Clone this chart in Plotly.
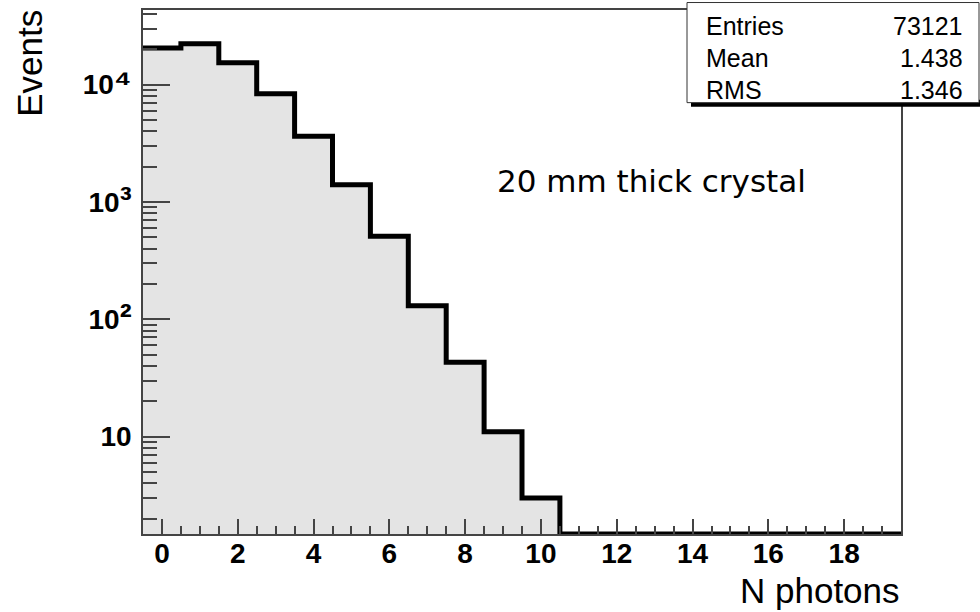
import math
import plotly.graph_objects as go

# Histogram of detected photons per event (bins centred on integers 0..19)
n_photons = list(range(20))
events = [20500, 22200, 15300, 8340, 3630, 1400, 509, 130, 43, 11, 3,
          0, 0, 0, 0, 0, 0, 0, 0, 0]

stat_names = ["Entries", "Mean", "RMS"]
stat_values = ["73121", "1.438", "1.346"]

y_major = [10, 100, 1000, 10000]
y_major_exp = [None, "²", "³", "⁴"]

# Figure geometry (pixels)
W, H = 980, 612
L, R, T, B = 143, 901, 8, 534
Y_LOG_RANGE = [0.17, 4.635]
X_RANGE = [-0.5, 19.5]


def px(x):
    return (x - L) / (R - L)


def py(y):
    return (B - y) / (B - T)


def decade_label(exp):
    if exp is None:
        return "10"
    return "10<span style='font-size:36px'>" + exp + "</span>"


y_major_text = [decade_label(e) for e in y_major_exp]

# minor ticks 2..9 within each decade
y_minor = [m * 10 ** d for d in range(0, 5) for m in range(2, 10)
           if Y_LOG_RANGE[0] <= math.log10(m * 10 ** d) <= Y_LOG_RANGE[1]]

floor_val = 10 ** Y_LOG_RANGE[0]
edges = [c - 0.5 for c in n_photons] + [n_photons[-1] + 0.5]
line_y = [max(v, floor_val) for v in events]
line_y = line_y + [line_y[-1]]

fig = go.Figure()
fig.add_trace(go.Bar(
    x=n_photons, y=[v if v > 0 else None for v in events], width=1.0,
    marker=dict(color="#e4e4e4", line=dict(width=0)),
    hoverinfo="skip", showlegend=False,
))
fig.add_trace(go.Scatter(
    x=edges, y=line_y, mode="lines", line=dict(color="black", width=5, shape="hv"),
    cliponaxis=False, hoverinfo="skip", showlegend=False,
))

axis_col = "#444444"
tick_font = dict(family="Liberation Sans, Arial, sans-serif", size=28, color="black", weight="bold")

fig.update_xaxes(
    range=X_RANGE, showline=True, linecolor=axis_col, linewidth=1.5, mirror=True,
    showgrid=False, zeroline=False,
    tickmode="linear", tick0=0, dtick=2, ticks="inside", ticklen=15, tickwidth=1.5,
    tickcolor=axis_col, tickfont=tick_font, ticklabelstandoff=-6,
    minor=dict(dtick=0.5, tick0=0, ticks="inside", ticklen=8, tickwidth=1.5, tickcolor=axis_col),
)
fig.update_yaxes(
    type="log", range=Y_LOG_RANGE, showline=True, linecolor=axis_col, linewidth=1.5, mirror=True,
    showgrid=False, zeroline=False,
    tickmode="array", tickvals=y_major, ticktext=y_major_text,
    ticks="inside", ticklen=27, tickwidth=1.5, tickcolor=axis_col, tickfont=tick_font,
    ticklabelstandoff=4,
    minor=dict(tickmode="array", tickvals=y_minor, ticks="inside", ticklen=14, tickwidth=1.5,
               tickcolor=axis_col),
)

# Statistics box with drop shadow
fig.add_shape(type="rect", xref="paper", yref="paper",
              x0=px(691), x1=px(980), y0=py(105), y1=py(98),
              fillcolor="black", line=dict(width=0), layer="above")
fig.add_shape(type="rect", xref="paper", yref="paper",
              x0=px(687), x1=px(979), y0=py(101), y1=py(0.5),
              fillcolor="white", line=dict(color="#333333", width=1), layer="above")

stat_font = dict(family="Liberation Sans, Arial, sans-serif", size=25, color="black")
row_y = [24, 56, 88]
for name, val, yy in zip(stat_names, stat_values, row_y):
    fig.add_annotation(xref="paper", yref="paper", x=px(704), y=py(yy), text=name,
                       showarrow=False, xanchor="left", yanchor="middle", font=stat_font)
    fig.add_annotation(xref="paper", yref="paper", x=px(965), y=py(yy), text=val,
                       showarrow=False, xanchor="right", yanchor="middle", font=stat_font)

title_font = dict(family="Liberation Sans, Arial, sans-serif", size=35, color="black")
fig.add_annotation(xref="paper", yref="paper", x=px(30), y=py(62), text="Events",
                   textangle=-90, showarrow=False, xanchor="center", yanchor="middle",
                   font=title_font)
fig.add_annotation(xref="paper", yref="paper", x=px(902), y=py(591), text="N photons",
                   showarrow=False, xanchor="right", yanchor="middle", font=title_font)

fig.add_annotation(xref="paper", yref="paper", x=px(495), y=py(180), text="20 mm thick crystal",
                   showarrow=False, xanchor="left", yanchor="middle",
                   font=dict(family="DejaVu Sans", size=31, color="black"))

fig.update_layout(
    width=W, height=H, autosize=False,
    margin=dict(l=L, r=W - R, t=T, b=H - B, pad=0),
    paper_bgcolor="white", plot_bgcolor="white",
    bargap=0, showlegend=False,
)

fig.write_html("out.html", config={"displayModeBar": False})
